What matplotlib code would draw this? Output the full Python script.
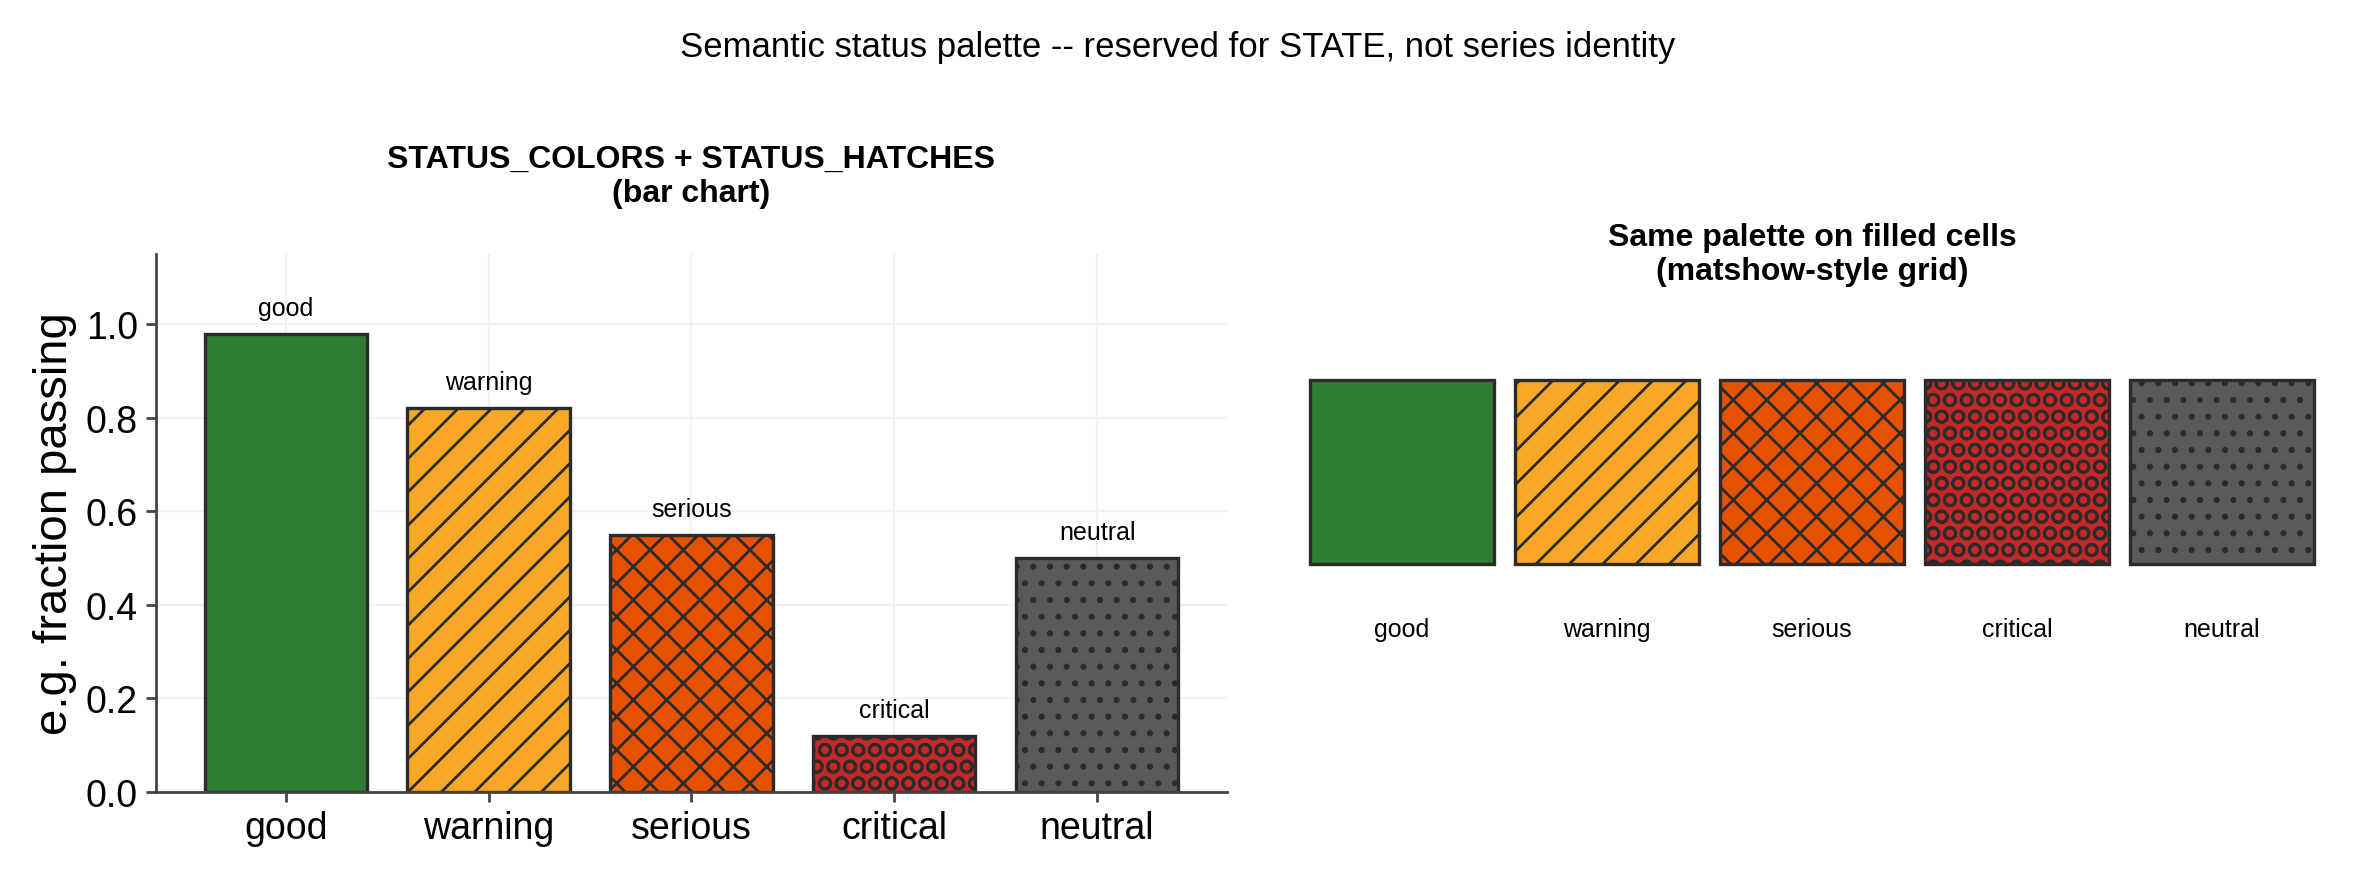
import matplotlib
matplotlib.use("Agg")
import matplotlib.pyplot as plt

plt.rcParams['font.family'] = ['Liberation Sans', 'DejaVu Sans']

# status categories and their example values
states = ["good", "warning", "serious", "critical", "neutral"]
values = [0.98, 0.82, 0.55, 0.12, 0.50]

STATUS_COLORS = ["#2e7d32", "#f9a825", "#e65100", "#c62828", "#5a5a5a"]
STATUS_HATCHES = ["", "//", "xx", "OO", ".."]

EDGE = "#2b2b2b"

fig = plt.figure(figsize=(11.775, 4.395), dpi=200)
fig.suptitle("Semantic status palette -- reserved for STATE, not series identity",
             fontsize=12.5, y=0.965)

# ---- left: bar chart
ax = fig.add_axes([0.0662, 0.0978, 0.4548, 0.612])
x = range(len(states))
ax.bar(x, values, width=0.8, color=STATUS_COLORS, hatch=STATUS_HATCHES,
       edgecolor=EDGE, linewidth=1.2, zorder=2)
for i, (name, v) in enumerate(zip(states, values)):
    ax.text(i, v + 0.03, name, ha="center", va="bottom", fontsize=9)

ax.set_xticks(list(x))
ax.set_xticklabels(states)
ax.set_ylim(0, 1.15)
ax.set_ylabel("e.g. fraction passing", fontsize=17, labelpad=3)
ax.tick_params(axis="both", labelsize=13.5, length=3.5, width=1.0,
               color="#444444", pad=3)
ax.grid(True, color="#f2f2f2", linewidth=0.8)
ax.set_axisbelow(True)
for side in ["top", "right"]:
    ax.spines[side].set_visible(False)
for side in ["left", "bottom"]:
    ax.spines[side].set_color("#444444")
    ax.spines[side].set_linewidth(1.0)
ax.set_title("STATUS_COLORS + STATUS_HATCHES\n(bar chart)", fontsize=11.5,
             fontweight="bold", pad=19)

# ---- right: filled cells
ax2 = fig.add_axes([0.5518, 0.206, 0.4352, 0.456])
ax2.bar(x, [0.9] * len(states), bottom=-0.45, width=0.9,
        color=STATUS_COLORS, hatch=STATUS_HATCHES, edgecolor=EDGE, linewidth=1.2)
for i, name in enumerate(states):
    ax2.text(i, -0.77, name, ha="center", va="center", fontsize=9)
ax2.set_xlim(-0.5, 4.5)
ax2.set_ylim(-1.1, 0.86)
ax2.axis("off")
ax2.set_title("Same palette on filled cells\n(matshow-style grid)", fontsize=11.5,
              fontweight="bold", pad=6)

fig.savefig("out.png", dpi=200)
